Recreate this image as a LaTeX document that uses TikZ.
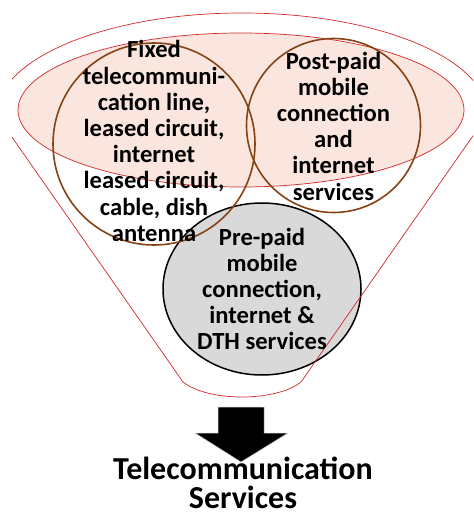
\documentclass[tikz,border=0pt]{standalone}
\usepackage{fontspec}
\setmainfont{Carlito}
\usetikzlibrary{shapes.geometric}
\definecolor{funnelred}{RGB}{210,40,40}
\definecolor{pinkfill}{RGB}{250,230,222}
\definecolor{ringbrown}{RGB}{133,66,20}
\definecolor{greyfill}{RGB}{217,217,217}
\begin{document}
\begin{tikzpicture}[x=1pt,y=-1pt,
  funnelline/.style={draw=funnelred,line width=0.7pt},
  ring/.style={draw=ringbrown,line width=1.6pt},
  label/.style={align=center,font=\fontsize{24.6}{26.2}\selectfont\bfseries,inner sep=0pt},
  title/.style={align=center,font=\fontsize{32}{29.5}\selectfont\bfseries,inner sep=0pt}]
\useasboundingbox (0,0) rectangle (473,518);
% grey circle
\node[ellipse,minimum width=198pt,minimum height=172pt,inner sep=0pt,draw=black,line width=1.5pt,fill=greyfill] (pre) at (262,289) {};
% funnel
\begin{scope}
\clip (12,0) rectangle (473,518);
\coordinate (fl) at (-3.5,115);
\coordinate (fr) at (487.5,115);
\coordinate (bl) at (183,382);
\coordinate (br) at (301,382);
\draw[funnelline] (fl) arc[start angle=180,end angle=0,x radius=245.5pt,y radius=102pt];
\draw[funnelline] (fl) -- (bl) .. controls (208,402) and (276,402) .. (br) -- (fr);
\end{scope}
% pink opening
\node[ellipse,minimum width=446pt,minimum height=154pt,inner sep=0pt,draw=funnelred,line width=0.7pt,fill=pinkfill] (mouth) at (241,110) {};
% rings
\node[circle,minimum size=202pt,inner sep=0pt,ring] (fixed) at (154,144) {};
\node[circle,minimum size=174pt,inner sep=0pt,ring] (post) at (333.5,125.5) {};
% texts
\node[label] (tfixed) at (154,141) {Fixed\\telecommuni-\\cation line,\\leased circuit,\\internet\\leased circuit,\\cable, dish\\antenna};
\node[label] (tpost) at (333.5,126) {Post-paid\\mobile\\connection\\and\\internet\\services};
\node[label] (tpre) at (262,289) {Pre-paid\\mobile\\connection,\\internet \&\\DTH services};
% arrow
\draw[fill=black,draw=gray!40,line width=0.5pt] (218,407) -- (264,407) -- (264,433) -- (288,433) -- (241,462) -- (195,433) -- (218,433) -- cycle;
\coordinate (arrowtip) at (241,462);
\node[title] (ttl) at (243,483) {Telecommunication\\Services};
\end{tikzpicture}
\end{document}
